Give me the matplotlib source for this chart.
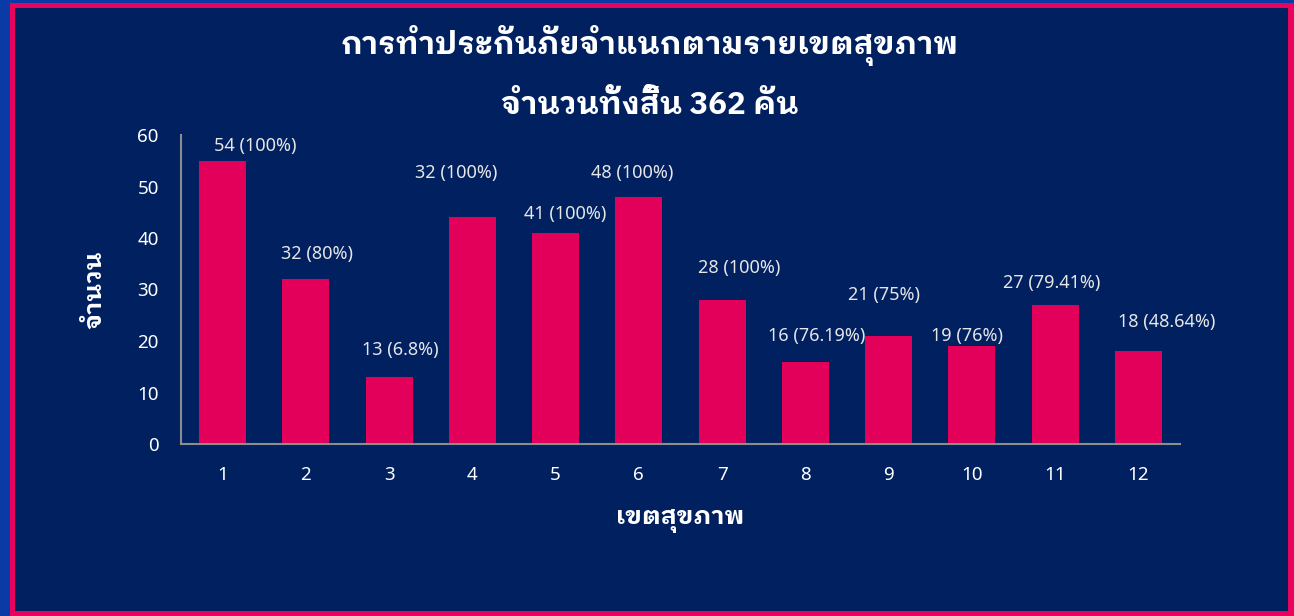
import matplotlib
matplotlib.use("Agg")
import matplotlib.pyplot as plt
from matplotlib.patches import Rectangle
import numpy as np

OUTER_BLUE = "#0a3aa6"
FRAME_PINK = "#e8035c"
NAVY = "#002060"
BAR_COL = "#e2005a"
AXIS_COL = "#8c8c8c"
TEXT_COL = "#ffffff"
LABEL_COL = "#e6e6e6"

FONT = ["Noto Sans", "IBM Plex Sans Thai Looped", "DejaVu Sans"]
THAI_FONT = ["IBM Plex Sans Thai Looped", "DejaVu Sans"]
plt.rcParams["font.family"] = FONT

# data
regions = ["1", "2", "3", "4", "5", "6", "7", "8", "9", "10", "11", "12"]
counts = [55, 32, 13, 44, 41, 48, 28, 16, 21, 19, 27, 18]
bar_labels = ["54 (100%)", "32 (80%)", "13 (6.8%)", "32 (100%)", "41 (100%)",
              "48 (100%)", "28 (100%)", "16 (76.19%)", "21 (75%)", "19 (76%)",
              "27 (79.41%)", "18 (48.64%)"]

# label placement (offset from bar centre / bar top, data units)
label_dx = [0.39, 0.13, 0.13, -0.19, 0.11, -0.08, 0.21, 0.13, -0.05, -0.06, -0.04, 0.34]
label_dy = [2.9, 4.9, 5.25, 8.6, 3.7, 4.6, 6.2, 5.0, 7.9, 2.0, 4.3, 5.7]

W, H = 1294, 616
fig = plt.figure(figsize=(W / 100, H / 100), dpi=100)
fig.patch.set_facecolor(OUTER_BLUE)
fig.add_artist(Rectangle((10 / W, 0), 1 - 10 / W, 1 - 3 / H,
                         transform=fig.transFigure, facecolor=FRAME_PINK,
                         edgecolor="none", zorder=-3))
fig.add_artist(Rectangle((15 / W, 5 / H), (1288 - 15) / W, (608 - 5) / H,
                         transform=fig.transFigure, facecolor=NAVY,
                         edgecolor="none", zorder=-2))

ax = fig.add_axes([181 / W, 1 - 444 / H, (1180 - 181) / W, (444 - 135) / H])
ax.set_facecolor("none")

x = np.arange(len(regions))
ax.bar(x, counts, width=0.565, color=BAR_COL, zorder=2)

for i, (lab, v) in enumerate(zip(bar_labels, counts)):
    ax.text(i + label_dx[i], v + label_dy[i], lab, ha="center", va="center",
            fontsize=13, color=LABEL_COL)

ax.set_xlim(-0.5, len(regions) - 0.5)
ax.set_ylim(0, 60)
ax.set_xticks(x)
ax.set_xticklabels(regions)
ax.set_yticks(np.arange(0, 61, 10))
ax.tick_params(axis="x", length=0, pad=16, labelsize=13.5, colors=TEXT_COL)
ax.tick_params(axis="y", length=0, pad=16, labelsize=13.5, colors=TEXT_COL)

for side in ["top", "right"]:
    ax.spines[side].set_visible(False)
for side in ["left", "bottom"]:
    ax.spines[side].set_color(AXIS_COL)
    ax.spines[side].set_linewidth(1.5)

ax.set_xlabel("เขตสุขภาพ", fontsize=18, fontweight="bold", color=TEXT_COL,
              labelpad=18, family=THAI_FONT)
ax.set_ylabel("จำนวน", fontsize=18, fontweight="bold", color=TEXT_COL,
              labelpad=22, family=THAI_FONT)

fig.text(650 / W, 1 - 45 / H, "การทำประกันภัยจำแนกตามรายเขตสุขภาพ",
         ha="center", va="center", fontsize=22.5, fontweight="bold",
         color=TEXT_COL, family=THAI_FONT)
fig.text(650 / W, 1 - 105 / H, "จำนวนทั้งสิ้น 362 คัน",
         ha="center", va="center", fontsize=22.5, fontweight="bold",
         color=TEXT_COL, family=THAI_FONT)

fig.savefig("out.png", dpi=100, facecolor=fig.get_facecolor())
